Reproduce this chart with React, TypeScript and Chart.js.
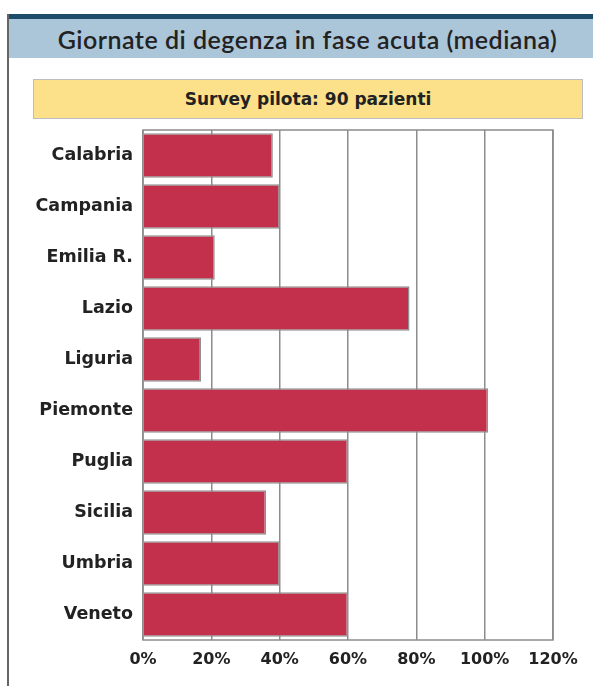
import React, { useEffect, useRef } from "react";
import { Chart, registerables } from "chart.js";

Chart.register(...registerables);

const titleText = "Giornate di degenza in fase acuta (mediana)";
const subtitleText = "Survey pilota: 90 pazienti";
const regions = ["Calabria", "Campania", "Emilia R.", "Lazio", "Liguria", "Piemonte", "Puglia", "Sicilia", "Umbria", "Veneto"];
const values = [38, 40, 21, 78, 17, 101, 60, 36, 40, 60];
const xMax = 120;
const xStep = 20;

const FONT = "Lato, 'DejaVu Sans', sans-serif";
const BOLD = "'DejaVu Sans', sans-serif";

const frame = {
  id: "frame",
  afterDraw(chart: any) {
    const { ctx, chartArea } = chart;
    ctx.save();
    ctx.strokeStyle = "#8c8c8c";
    ctx.lineWidth = 1.5;
    ctx.strokeRect(chartArea.left, chartArea.top, chartArea.right - chartArea.left, chartArea.bottom - chartArea.top);
    ctx.restore();
  },
};

export default function App() {
  const ref = useRef<HTMLCanvasElement>(null);
  useEffect(() => {
    if (!ref.current) return;
    const chart = new Chart(ref.current, {
      type: "bar",
      data: {
        labels: regions,
        datasets: [
          {
            data: values,
            backgroundColor: "#c3304b",
            borderColor: "#8f8f8f",
            borderWidth: 1.5,
            barPercentage: 0.87,
            categoryPercentage: 1,
          },
        ],
      },
      plugins: [frame],
      options: {
        indexAxis: "y",
        animation: false,
        responsive: false,
        maintainAspectRatio: false,
        layout: { padding: { left: 0, top: 130, right: 40, bottom: 0 } },
        plugins: { legend: { display: false }, tooltip: { enabled: false }, title: { display: false } },
        scales: {
          x: {
            min: 0,
            max: xMax,
            ticks: {
              stepSize: xStep,
              callback: (v: any) => v + "%",
              color: "#222",
              font: { family: BOLD, size: 16, weight: "bold" },
              padding: 10,
            },
            grid: { color: "#8c8c8c", lineWidth: 1.5, drawTicks: false },
            border: { display: false },
            afterFit: (s: any) => { s.height = 46; },
          },
          y: {
            ticks: {
              color: "#222",
              font: { family: BOLD, size: 17.5, weight: "bold" },
              padding: 10,
            },
            grid: { display: false, drawTicks: false },
            border: { display: false },
            afterFit: (s: any) => { s.width = 143; },
          },
        },
      },
    });
    return () => chart.destroy();
  }, []);

  return (
    <div style={{ position: "fixed", left: 0, top: 0, width: 593, height: 686, background: "#fff", overflow: "hidden" }}>
      <div style={{ position: "absolute", left: 8, top: 14, width: 585, height: 5, background: "#1d4c6a" }} />
      <div
        style={{
          position: "absolute", left: 8, top: 19, width: 585, height: 39, background: "#abc5d9",
          display: "flex", alignItems: "center", justifyContent: "center",
          fontFamily: FONT, fontSize: 25, fontWeight: 600, letterSpacing: 0.5, color: "#222", paddingLeft: 14, boxSizing: "border-box",
        }}
      >
        {titleText}
      </div>
      <div style={{ position: "absolute", left: 7, top: 14, width: 1.5, height: 672, background: "#666" }} />
      <div
        style={{
          position: "absolute", left: 33, top: 79, width: 550, height: 40, background: "#fde18a",
          border: "1px solid #bdbdbd", boxSizing: "border-box",
          display: "flex", alignItems: "center", justifyContent: "center",
          fontFamily: BOLD, fontSize: 17, fontWeight: 700, color: "#222",
        }}
      >
        {subtitleText}
      </div>
      <canvas ref={ref} width={593} height={686} style={{ position: "absolute", left: 0, top: 0 }} />
    </div>
  );
}
